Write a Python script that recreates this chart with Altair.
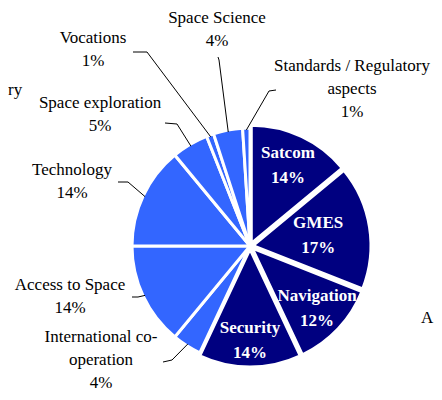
import math
import altair as alt
import pandas as pd

# ---------------- data ----------------
categories = ["Satcom", "GMES", "Navigation", "Security",
              "International co-operation", "Access to Space", "Technology",
              "Space exploration", "Vocations", "Space Science",
              "Standards / Regulatory aspects"]
shares = [14, 17, 12, 14, 4, 14, 14, 5, 1, 4, 1]
groups = ["core", "core", "core", "core",
          "other", "other", "other", "other", "other", "other", "other"]
label_text = ["Satcom\n14%", "GMES\n17%", "Navigation\n12%", "Security\n14%",
              "International co-\noperation\n4%", "Access to Space\n14%",
              "Technology\n14%", "Space exploration\n5%", "Vocations\n1%",
              "Space Science\n4%", "Standards / Regulatory\naspects\n1%"]

# ---------------- layout (page pixels) ----------------
OFF = 8                      # page margin
CX, CY = 250 - OFF, 246 - OFF
R = 118
FONT = "Liberation Serif"
LH_IN, LH_OUT = 25, 23
EXPLODE = {"core": 3, "other": 0}
inner_r = {"Satcom": 86, "GMES": 66, "Navigation": 89, "Security": 91}
outer_pos = {   # centre x and first-line y of outside labels
    "International co-operation": (101, 337),
    "Access to Space": (70, 285),
    "Technology": (72, 170),
    "Space exploration": (100, 103),
    "Vocations": (93, 38),
    "Space Science": (217, 18),
    "Standards / Regulatory aspects": (352, 66),
}
leader_pts = {  # label-side start and elbow of leader lines
    "International co-operation": [(163, 362), (172, 360)],
    "Access to Space": [(132, 297), (138, 297)],
    "Technology": [(118, 182), (128, 182)],
    "Space exploration": [(165, 123), (177, 124)],
    "Vocations": [(133, 52), (147, 52)],
    "Space Science": [(218, 57), (219, 60)],
    "Standards / Regulatory aspects": [(276, 90), (269, 91)],
}

total = sum(shares)
rows, inner, outer, lines = [], [], [], []
cum = 0.0
for cat, v, g, lab in zip(categories, shares, groups, label_text):
    t0 = 2 * math.pi * cum / total
    cum += v
    t1 = 2 * math.pi * cum / total
    mid = (t0 + t1) / 2
    e = EXPLODE[g]
    px = CX + e * math.sin(mid)
    py = CY - e * math.cos(mid)
    rows.append({"cat": cat, "group": g, "t0": t0, "t1": t1, "px": px, "py": py})
    n = lab.count("\n") + 1
    if cat in inner_r:
        r = inner_r[cat]
        inner.append({"cat": cat, "label": lab,
                      "lx": px + r * math.sin(mid),
                      "ly": py - r * math.cos(mid) - (n - 1) * LH_IN / 2})
    else:
        x, y = outer_pos[cat]
        outer.append({"cat": cat, "label": lab, "lx": x - OFF, "ly": y - OFF})
        pts = leader_pts[cat] + [(CX + OFF + (R - 2) * math.sin(mid),
                                  CY + OFF - (R - 2) * math.cos(mid))]
        for k, (x, y) in enumerate(pts):
            lines.append({"cat": cat, "k": k, "x": x - OFF, "y": y - OFF})

slices = pd.DataFrame(rows)
inner_df = pd.DataFrame(inner)
outer_df = pd.DataFrame(outer)
lines_df = pd.DataFrame(lines)
extra_df = pd.DataFrame([{"t": "ry", "x": 8 - OFF, "y": 90 - OFF},
                         {"t": "A", "x": 421 - OFF, "y": 318 - OFF}])

X = lambda f: alt.X(f, type="quantitative", scale=None, axis=None)
Y = lambda f: alt.Y(f, type="quantitative", scale=None, axis=None)

pie = alt.Chart(slices).mark_arc(radius=R, stroke="white", strokeWidth=3).encode(
    theta=alt.Theta("t0:Q", scale=None, stack=False),
    theta2=alt.Theta2("t1"),
    x=X("px"), y=Y("py"),
    color=alt.Color("group:N", scale=alt.Scale(domain=["core", "other"],
                                               range=["#000080", "#3366FF"]),
                    legend=None),
)

leaders = alt.Chart(lines_df).mark_line(color="black", strokeWidth=1).encode(
    x=X("x"), y=Y("y"), detail="cat:N", order="k:Q")

inner_txt = alt.Chart(inner_df).mark_text(
    font=FONT, fontSize=17, fontWeight="bold", color="white",
    lineBreak="\n", lineHeight=LH_IN, align="center", baseline="middle"
).encode(x=X("lx"), y=Y("ly"), text="label:N")

outer_txt = alt.Chart(outer_df).mark_text(
    font=FONT, fontSize=17, color="black",
    lineBreak="\n", lineHeight=LH_OUT, align="center", baseline="middle"
).encode(x=X("lx"), y=Y("ly"), text="label:N")

extra_txt = alt.Chart(extra_df).mark_text(
    font=FONT, fontSize=17, color="black", align="left", baseline="middle"
).encode(x=X("x"), y=Y("y"), text="t:N")

chart = alt.layer(pie, leaders, inner_txt, outer_txt, extra_txt).properties(
    width=426, height=384, padding=0,
    autosize=alt.AutoSizeParams(type="fit", contains="padding"),
).configure_view(strokeWidth=0)

chart.save("out.html", embed_options={"renderer": "svg", "actions": False})
